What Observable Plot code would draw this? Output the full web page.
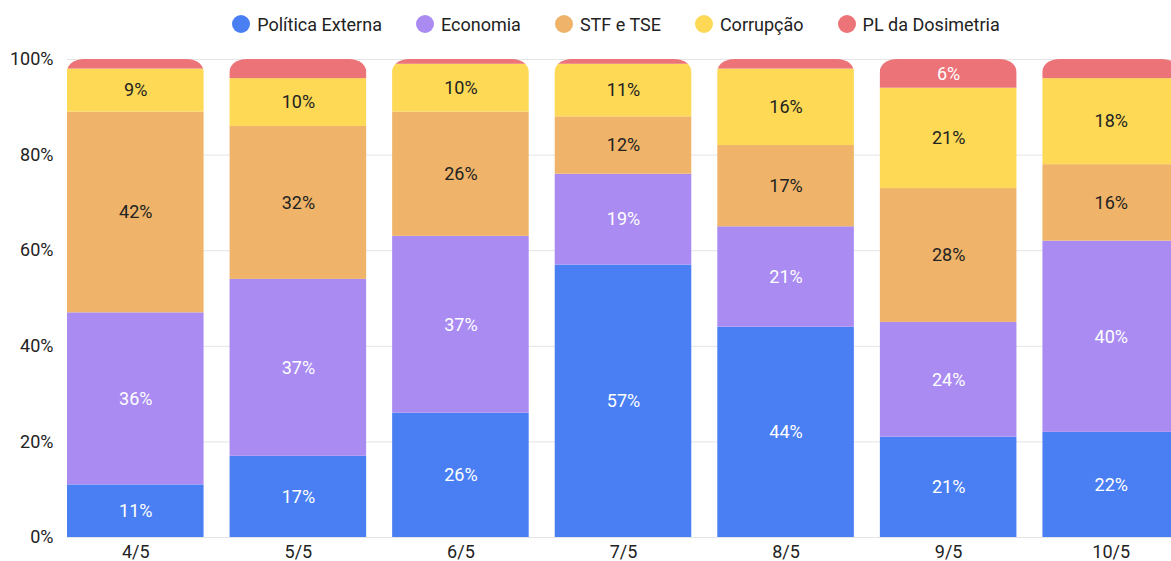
<!DOCTYPE html>
<html>
<head>
<meta charset="utf-8">
<script src="https://cdn.jsdelivr.net/npm/d3@7"></script>
<script src="https://cdn.jsdelivr.net/npm/@observablehq/plot@0.6"></script>
<style>
  html, body { margin: 0; padding: 0; background: #fff; overflow: hidden; width: 1171px; height: 561px; }
  body { font-family: Roboto, "Noto Sans", sans-serif; color: #222; }
  #legend { width: 1112px; padding-left: 60px; height: 48px; display: flex; justify-content: center; align-items: center; font-size: 18px; color: #222; }
  .item { display: flex; align-items: center; margin: 0 17px; white-space: nowrap; }
  .dot { width: 18px; height: 18px; border-radius: 50%; margin-right: 7px; }
  #chart svg { max-width: none !important; }
</style>
</head>
<body>
<div id="legend"></div>
<div id="chart"></div>
<script>
const dates = ["4/5", "5/5", "6/5", "7/5", "8/5", "9/5", "10/5"];
const seriesNames = ["Política Externa", "Economia", "STF e TSE", "Corrupção", "PL da Dosimetria"];
const seriesColors = ["#4a7ff4", "#a98bf2", "#efb469", "#fdd955", "#ec7377"];
const politicaExterna = [11, 17, 26, 57, 44, 21, 22];
const economia = [36, 37, 37, 19, 21, 24, 40];
const stfTse = [42, 32, 26, 12, 17, 28, 16];
const corrupcao = [9, 10, 10, 11, 16, 21, 18];
const plDosimetria = [2, 4, 1, 1, 2, 6, 4];
const yTicks = [0, 20, 40, 60, 80, 100];
const whiteLabelSeries = ["Política Externa", "Economia", "PL da Dosimetria"];

const seriesValues = [politicaExterna, economia, stfTse, corrupcao, plDosimetria];
const data = [];
seriesNames.forEach((s, i) => dates.forEach((d, j) => data.push({date: d, series: s, value: seriesValues[i][j]})));

// legend
const legend = document.getElementById("legend");
seriesNames.forEach((s, i) => {
  const it = document.createElement("div");
  it.className = "item";
  it.innerHTML = `<span class="dot" style="background:${seriesColors[i]}"></span><span>${s}</span>`;
  legend.appendChild(it);
});

const label = (white) => (d) => (d.value >= 5 && whiteLabelSeries.includes(d.series) === white) ? d.value + "%" : "";

const chart = Plot.plot({
  width: 1179,
  height: 513,
  marginLeft: 67,
  marginRight: 0,
  marginTop: 11,
  marginBottom: 24,
  style: {fontFamily: "Roboto, sans-serif", fontSize: "18px", color: "#222", background: "#fff", overflow: "visible", maxWidth: "none"},
  x: {domain: dates, paddingInner: 0.16, paddingOuter: 0, round: false, label: null},
  y: {domain: [0, 100], label: null},
  color: {domain: seriesNames, range: seriesColors},
  marks: [
    Plot.gridY(yTicks, {stroke: "#e4e4e4", strokeOpacity: 1, strokeWidth: 1}),
    Plot.axisY(yTicks, {tickSize: 0, tickPadding: 14, tickFormat: d => d + "%", fontSize: 18, fill: "#222", label: null}),
    Plot.axisX({tickSize: 0, tickPadding: 8, fontSize: 18, fill: "#222", label: null}),
    Plot.barY(data, {x: "date", y: "value", fill: "series", ariaLabel: "stackbars"}),
    Plot.text(data, Plot.stackY({x: "date", y: "value", z: "series", text: label(true), fill: "white", fontSize: 18})),
    Plot.text(data, Plot.stackY({x: "date", y: "value", z: "series", text: label(false), fill: "#222", fontSize: 18}))
  ]
});
document.getElementById("chart").appendChild(chart);

// rounded top corners: clip the stacked bars with a rounded shape per date, derived from the scales
try {
  const xs = chart.scale("x"), ys = chart.scale("y");
  const xAt = v => (xs.apply ? xs.apply(v) : xs(v));
  const yAt = v => (ys.apply ? ys.apply(v) : ys(v));
  const bw = xs.bandwidth;
  const r = 18;
  const totals = dates.map((d, j) => d3.sum(seriesValues, v => v[j]));
  const NS = "http://www.w3.org/2000/svg";
  const defs = document.createElementNS(NS, "defs");
  const clip = document.createElementNS(NS, "clipPath");
  clip.setAttribute("id", "roundTopClip");
  clip.setAttribute("clipPathUnits", "userSpaceOnUse");
  defs.appendChild(clip);
  chart.insertBefore(defs, chart.firstChild);
  dates.forEach((d, j) => {
    const x0 = xAt(d), x1 = x0 + bw;
    const yt = yAt(totals[j]), yb = yAt(0) + 2;
    const p = document.createElementNS(NS, "path");
    p.setAttribute("d", `M${x0 - 1},${yb}L${x0 - 1},${yt + r}Q${x0 - 1},${yt} ${x0 + r},${yt}L${x1 - r},${yt}Q${x1 + 1},${yt} ${x1 + 1},${yt + r}L${x1 + 1},${yb}Z`);
    clip.appendChild(p);
  });
  let barG = chart.querySelector('g[aria-label="stackbars"]');
  if (!barG) {
    const rects = chart.querySelectorAll("rect");
    barG = rects.length ? rects[rects.length - 1].parentNode : null;
  }
  if (barG) barG.setAttribute("clip-path", "url(#roundTopClip)");
} catch (e) {
  console.error(e);
}
</script>
</body>
</html>
